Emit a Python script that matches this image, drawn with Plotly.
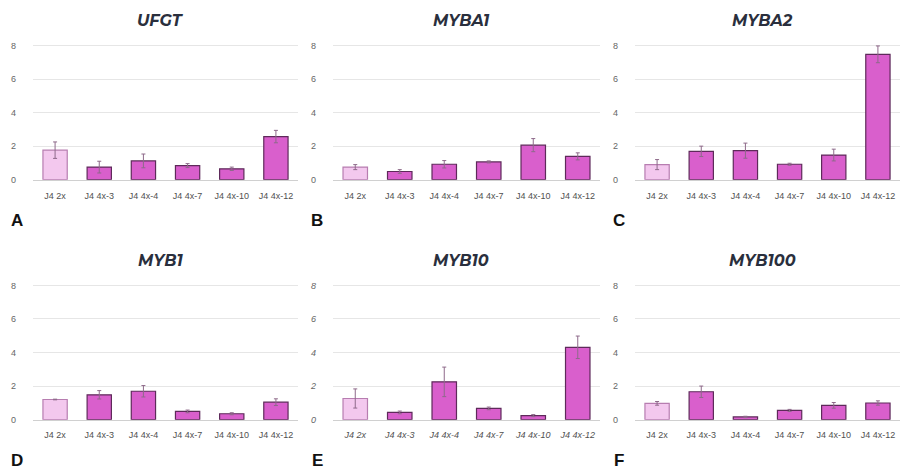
import plotly.graph_objects as go

categories = ["J4 2x", "J4 4x-3", "J4 4x-4", "J4 4x-7", "J4 4x-10", "J4 4x-12"]
genes = ["UFGT", "MYBA1", "MYBA2", "MYB1", "MYB10", "MYB100"]
panel_letters = ["A", "B", "C", "D", "E", "F"]

ufgt = [1.76, 0.75, 1.12, 0.84, 0.65, 2.57]
ufgt_err = [0.49, 0.35, 0.41, 0.12, 0.10, 0.37]
myba1 = [0.75, 0.49, 0.92, 1.06, 2.06, 1.39]
myba1_err = [0.15, 0.11, 0.22, 0.06, 0.39, 0.21]
myba2 = [0.90, 1.69, 1.73, 0.92, 1.47, 7.47]
myba2_err = [0.30, 0.31, 0.45, 0.06, 0.35, 0.50]
myb1 = [1.20, 1.48, 1.69, 0.49, 0.35, 1.04]
myb1_err = [0.02, 0.25, 0.34, 0.08, 0.06, 0.20]
myb10 = [1.26, 0.43, 2.25, 0.67, 0.24, 4.31]
myb10_err = [0.57, 0.08, 0.88, 0.08, 0.06, 0.67]
myb100 = [0.97, 1.66, 0.16, 0.55, 0.85, 0.99]
myb100_err = [0.11, 0.34, 0.04, 0.06, 0.17, 0.13]

values = [ufgt, myba1, myba2, myb1, myb10, myb100]
errors = [ufgt_err, myba1_err, myba2_err, myb1_err, myb10_err, myb100_err]
y_ticks = [0, 2, 4, 6, 8]
italic_ticks = [False, False, False, False, True, False]

W, H = 904, 474
fill_colors = ["#F3C8EE"] + ["#D95FCC"] * 5
line_colors = ["#B77DB0"] + ["#5E2A5A"] * 5

# pixel layout per panel
col_x = [(33, 298), (333, 600), (635, 900)]
row_y = [(45, 181), (288, 424)]  # y of 8 and 0
ymax = 8.25

fig = go.Figure()
annotations = []
for i in range(6):
    r, c = divmod(i, 3)
    x0, x1 = col_x[c]
    y8, y0 = row_y[r]
    unit = (y0 - y8) / 8.0
    ytop = y0 - unit * ymax
    xa = "x" if i == 0 else f"x{i+1}"
    ya = "y" if i == 0 else f"y{i+1}"
    style = "italic" if italic_ticks[i] else "normal"
    fig.add_trace(go.Bar(
        x=categories, y=values[i],
        marker=dict(color=fill_colors, line=dict(color=line_colors, width=1.2)),
        width=0.55,
        error_y=dict(type="data", array=errors[i], visible=True,
                     color="#8E6A8A", thickness=1, width=2),
        xaxis=xa, yaxis=ya, showlegend=False,
    ))
    ax_key = "xaxis" if i == 0 else f"xaxis{i+1}"
    ay_key = "yaxis" if i == 0 else f"yaxis{i+1}"
    fig.layout[ax_key] = dict(
        domain=[x0 / W, x1 / W], anchor=ya,
        showgrid=False, showline=True, linecolor="#D0D0D0", linewidth=1,
        ticks="", ticklabelstandoff=7,
        tickfont=dict(size=9, color="#505050", style=style,
                      family="Liberation Sans, Arial, sans-serif"),
        fixedrange=True,
    )
    fig.layout[ay_key] = dict(
        domain=[1 - y0 / H, 1 - ytop / H], anchor=xa,
        range=[0, ymax], tickvals=y_ticks,
        showgrid=True, gridcolor="#E6E6E6", gridwidth=1,
        zeroline=False, showline=False, ticks="",
        ticklabelstandoff=16,
        tickfont=dict(size=9, color="#666666", style=style,
                      family="Liberation Sans, Arial, sans-serif"),
        fixedrange=True,
    )
    # title
    annotations.append(dict(
        x=((x0 + x1) / 2 - 5) / W, y=1 - (y8 - 25) / H,
        xref="paper", yref="paper", xanchor="center", yanchor="middle",
        text=f"<b><i>{genes[i]}</i></b>", showarrow=False,
        font=dict(size=16, color="#2A2F3D",
                  family="Montserrat, DejaVu Sans, sans-serif"),
    ))
    # panel letter
    annotations.append(dict(
        x=(x0 - 16) / W, y=1 - (y0 + 41) / H,
        xref="paper", yref="paper", xanchor="center", yanchor="middle",
        text=f"<b>{panel_letters[i]}</b>", showarrow=False,
        font=dict(size=17, color="#111111", family="Liberation Sans, Arial, sans-serif"),
    ))

fig.update_layout(
    width=W, height=H, autosize=False,
    margin=dict(l=0, r=0, t=0, b=0),
    paper_bgcolor="white", plot_bgcolor="white",
    annotations=annotations, bargap=0.45,
)
fig.write_html("out.html", config={"displayModeBar": False},
               post_script="document.body.style.margin='0';")
